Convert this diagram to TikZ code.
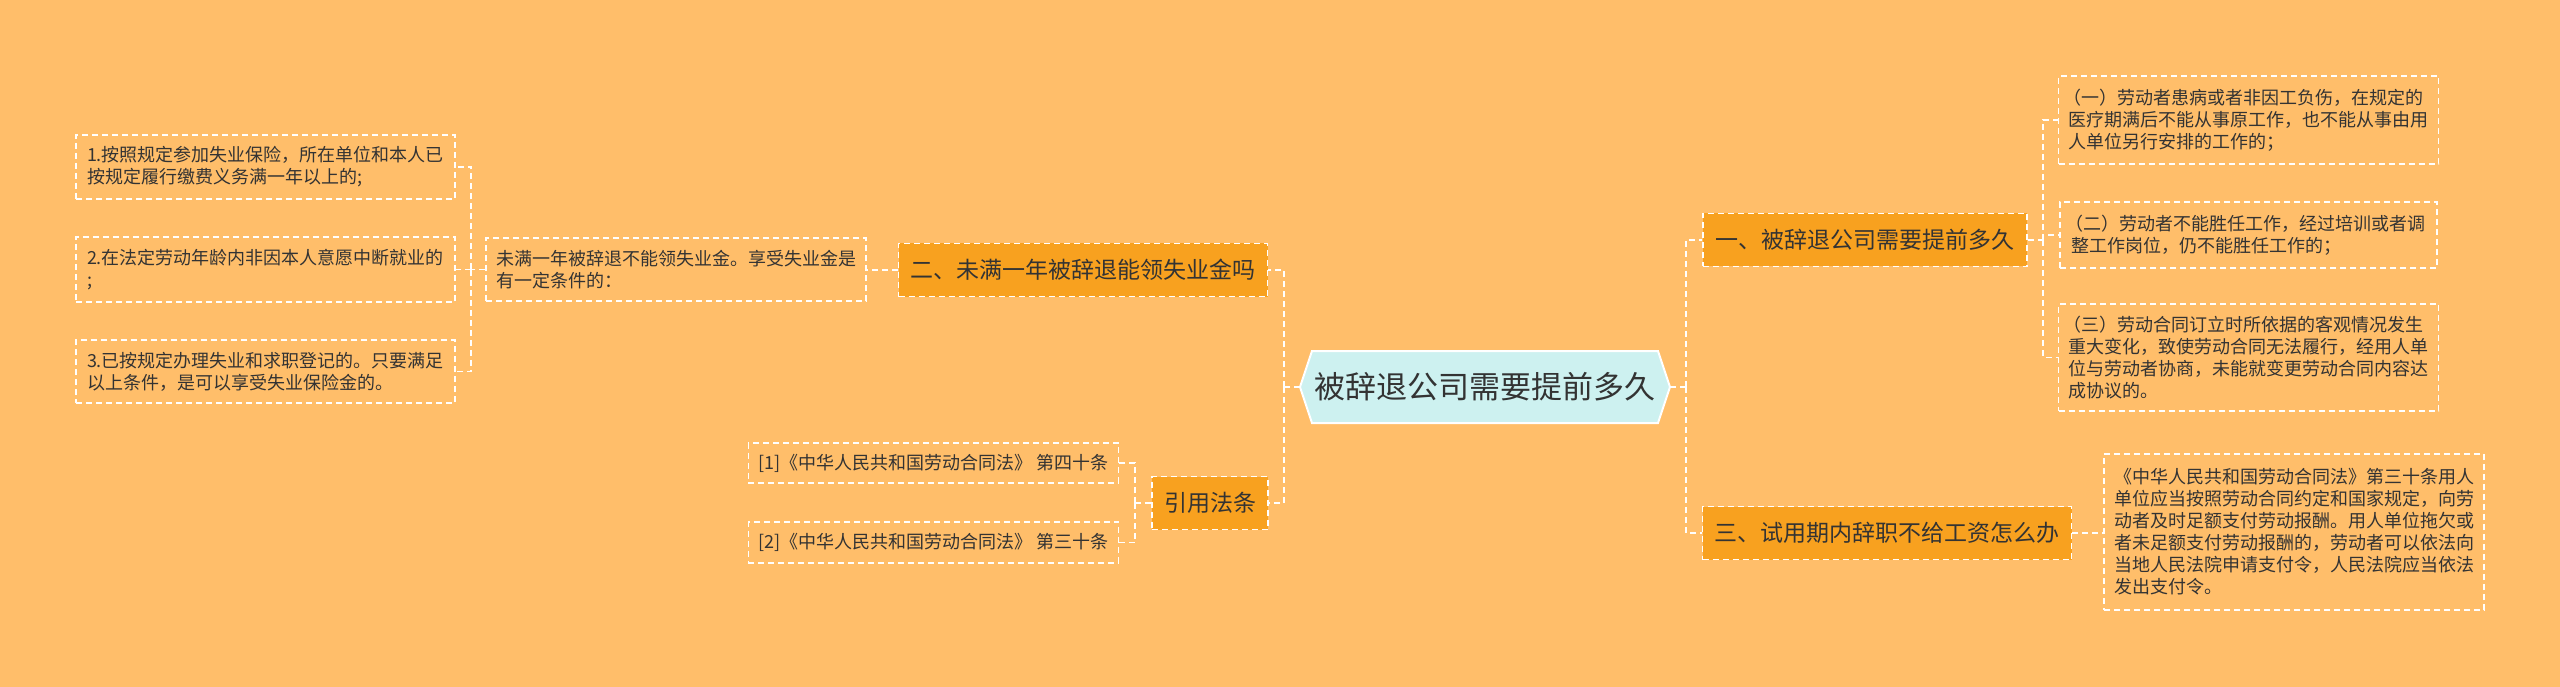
\documentclass[tikz,border=0pt]{standalone}
\usepackage{fontspec}
\setmainfont{Noto Sans CJK SC}
\definecolor{bgc}{HTML}{FFBE6A}
\definecolor{brc}{HTML}{F8A11F}
\definecolor{hexc}{HTML}{CDF1F0}
\definecolor{txt}{HTML}{333333}
\tikzset{
  conn/.style={draw=white, line width=1.5pt, dash pattern=on 6pt off 4pt},
  leaf/.style={draw=white, line width=1.5pt, dash pattern=on 6pt off 4pt, inner xsep=10pt, inner ysep=0pt, align=left, text=txt, font=\fontsize{18}{22}\selectfont},
  branch/.style={draw=white, fill=brc, line width=1.5pt, dash pattern=on 6pt off 4pt, inner xsep=12pt, inner ysep=0pt, minimum height=53pt, text=txt, font=\fontsize{23}{27}\selectfont},
  hexshape/.style={draw=white, fill=hexc, line width=2pt, line join=miter}
}
\begin{document}
\begin{tikzpicture}[x=1pt,y=-1pt]
\useasboundingbox (0,0) rectangle (2560,687);
\fill[bgc] (0,0) rectangle (2560,687);

% central hexagon
\coordinate (cl) at (1300,387);
\coordinate (cr) at (1670,387);
\filldraw[hexshape] (cl) -- (1312,351) -- (1658,351) -- (cr) -- (1658,423) -- (1312,423) -- cycle;
\node[text=txt, font=\fontsize{31}{36}\selectfont] (c) at (1485,387) {被辞退公司需要提前多久};

% branches
\node[branch, minimum width=324pt] (b1) at (1865,240) {一、被辞退公司需要提前多久};
\node[branch, minimum width=367pt] (b3) at (1887,533) {三、试用期内辞职不给工资怎么办};
\node[branch, minimum width=368pt] (b2) at (1083,270) {二、未满一年被辞退能领失业金吗};
\node[branch, minimum width=116pt] (b4) at (1210,503) {引用法条};

% right leaves
\node[leaf, minimum width=377pt, minimum height=88pt] (l1) at (2248.5,120) {\hspace*{-0.3em}（一）劳动者患病或者非因工负伤，在规定的\\医疗期满后不能从事原工作，也不能从事由用\\人单位另行安排的工作的；};
\node[leaf, minimum width=377pt, minimum height=66pt] (l2) at (2248.5,235) {\hspace*{-0.3em}（二）劳动者不能胜任工作，经过培训或者调\\整工作岗位，仍不能胜任工作的；};
\node[leaf, minimum width=377pt, minimum height=107pt] (l3) at (2248.5,357.5) {\hspace*{-0.3em}（三）劳动合同订立时所依据的客观情况发生\\重大变化，致使劳动合同无法履行，经用人单\\位与劳动者协商，未能就变更劳动合同内容达\\成协议的。};
\node[leaf, minimum width=378pt, minimum height=156pt] (law) at (2294,532) {《中华人民共和国劳动合同法》第三十条用人\\单位应当按照劳动合同约定和国家规定，向劳\\动者及时足额支付劳动报酬。用人单位拖欠或\\者未足额支付劳动报酬的，劳动者可以依法向\\当地人民法院申请支付令，人民法院应当依法\\发出支付令。};

% left leaves
\node[leaf, minimum width=380pt, minimum height=63pt] (m) at (676,269.5) {未满一年被辞退不能领失业金。享受失业金是\\有一定条件的：};
\node[leaf, minimum width=379pt, minimum height=64pt] (s1) at (265.5,167) {1.按照规定参加失业保险，所在单位和本人已\\按规定履行缴费义务满一年以上的;};
\node[leaf, minimum width=379pt, minimum height=65pt] (s2) at (265.5,269.5) {2.在法定劳动年龄内非因本人意愿中断就业的\\;};
\node[leaf, minimum width=379pt, minimum height=63pt] (s3) at (265.5,371.5) {3.已按规定办理失业和求职登记的。只要满足\\以上条件，是可以享受失业保险金的。};
\node[leaf, minimum width=369pt, minimum height=40pt] (r1) at (933.5,463) {[1]《中华人民共和国劳动合同法》 第四十条};
\node[leaf, minimum width=369pt, minimum height=41pt] (r2) at (933.5,542.5) {[2]《中华人民共和国劳动合同法》 第三十条};

% junctions
\coordinate (jl) at (1284,387);
\coordinate (jr) at (1686,387);
\coordinate (j1) at (2043,240);
\coordinate (jm) at (471,269.5);
\coordinate (jb) at (1135,503);

% connectors
\draw[conn] (cl) -- (jl);
\draw[conn] (jl) |- (b2.east);
\draw[conn] (jl) |- (b4.east);
\draw[conn] (cr) -- (jr);
\draw[conn] (jr) |- (b1.west);
\draw[conn] (jr) |- (b3.west);
\draw[conn] (b1.east) -- (j1);
\draw[conn] (j1) |- (l1.west);
\draw[conn] (j1) |- (l2.west);
\draw[conn] (j1) |- (l3.west);
\draw[conn] (b3.east) -- (b3.east -| law.west);
\draw[conn] (b2.west) -- (b2.west -| m.east);
\draw[conn] (m.west) -- (jm);
\draw[conn] (jm) |- (s1.east);
\draw[conn] (jm) |- (s2.east);
\draw[conn] (jm) |- (s3.east);
\draw[conn] (b4.west) -- (jb);
\draw[conn] (jb) |- (r1.east);
\draw[conn] (jb) |- (r2.east);
\end{tikzpicture}
\end{document}
